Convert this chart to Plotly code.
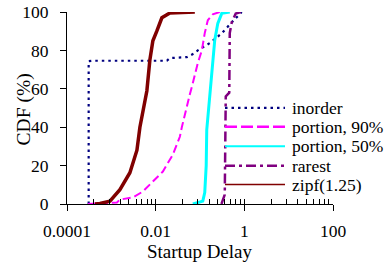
import plotly.graph_objects as go

# ---- data ----
inorder_x = [0.000308, 0.000308, 0.000366, 0.0179, 0.0209, 0.0505, 0.0764, 0.089, 0.166, 0.310, 0.520, 0.787, 0.873]
inorder_y = [0, 74.4, 74.6, 74.6, 76.0, 76.5, 78.6, 80.0, 83.8, 88.9, 94.6, 99.3, 100]

p90_x = [0.000297, 0.001337, 0.00156, 0.00306, 0.00515, 0.00865, 0.01453, 0.0244, 0.0351, 0.0389,
         0.0505, 0.0589, 0.0689, 0.0891, 0.110, 0.128, 0.150, 0.194, 0.279]
p90_y = [0, 0.8, 2.3, 3.4, 6.5, 11.7, 16.9, 25.7, 35, 40, 51.7, 57, 63, 73.4, 80, 89, 95.7, 98.8, 100]

p50_x = [0.0689, 0.1156, 0.128, 0.138, 0.142, 0.150, 0.166, 0.184, 0.194, 0.215, 0.252, 0.310, 0.469]
p50_y = [0, 1.5, 6, 20, 38.6, 45, 54.2, 66.1, 76.5, 85.3, 94.1, 99.3, 100]

rarest_x = [0.305, 0.362, 0.381, 0.457, 0.469, 0.520, 0.640, 0.830]
rarest_y = [0, 4.9, 56, 58, 89, 94.6, 99.2, 100]

zipf_x = [0.000428, 0.000553, 0.000929, 0.00156, 0.00262, 0.00378, 0.00441, 0.00515, 0.00634,
          0.00740, 0.00865, 0.0106, 0.0138, 0.0209, 0.0764]
zipf_y = [0, 0.3, 1.5, 7.5, 16.3, 28, 40, 49, 59, 75, 85, 90, 97, 99.5, 100]

series_names = ["inorder", "portion, 90%", "portion, 50%", "rarest", "zipf(1.25)"]
major_ticks = [0.0001, 0.01, 1, 100]
major_labels = ["0.0001", "0.01", "1", "100"]
minor_ticks = [k * k * d for d in (0.0001, 0.01, 1) for k in range(2, 10)]
y_ticks = [0, 20, 40, 60, 80, 100]
x_title = "Startup Delay"
y_title = "CDF (%)"

FONT = "Liberation Serif, Times New Roman, serif"

styles = [
    dict(color="#000080", width=2.2, dash="2.5px,4px"),
    dict(color="#FF00FF", width=2, dash="8px,4px"),
    dict(color="#00FFFF", width=3),
    dict(color="#800080", width=2.5, dash="10px,4px,3px,4px"),
    dict(color="#800000", width=3.5),
]
legend_styles = [
    dict(color="#000080", width=2.2, dash="2.5px,4px"),
    dict(color="#FF00FF", width=2.5, dash="12px,4px"),
    dict(color="#00FFFF", width=1.8),
    dict(color="#800080", width=2.5, dash="10px,4px,3px,4px"),
    dict(color="#800000", width=1.5),
]
data = [(inorder_x, inorder_y), (p90_x, p90_y), (p50_x, p50_y), (rarest_x, rarest_y), (zipf_x, zipf_y)]

fig = go.Figure()
for (xs, ys), name, st in zip(data, series_names, styles):
    fig.add_trace(go.Scatter(x=xs, y=ys, mode="lines", name=name, line=st, showlegend=False))

# invisible trace on overlay axis that carries the inside ticks
fig.add_trace(go.Scatter(x=[0.0001, 100], y=[None, None], xaxis="x2", showlegend=False,
                         hoverinfo="skip", mode="lines"))

W, H = 391, 262
# plot area in window pixels: x 67..333, y 11.7..204.5
L = 67
R = W - 333
T = 11.7
B = H - 204.5
pw, ph = W - L - R, H - T - B
def px2x(px): return (px - L) / pw
def py2y(py): return (H - B - py) / ph

# hand-drawn legend (line samples + labels) inside the plot area
leg_rows = [108, 127, 146.5, 166, 185]
for name, st, py in zip(series_names, legend_styles, leg_rows):
    fig.add_shape(type="line", xref="paper", yref="paper",
                  x0=px2x(225), x1=px2x(285), y0=py2y(py), y1=py2y(py), line=st)
    fig.add_annotation(text=name, xref="paper", yref="paper", x=px2x(290), y=py2y(py),
                       xanchor="left", yanchor="middle", showarrow=False,
                       font=dict(size=17.5, family=FONT, color="black"))

# axis titles
fig.add_annotation(text=x_title, xref="paper", yref="paper", x=px2x(200), y=py2y(252.5),
                   xanchor="center", yanchor="middle", showarrow=False,
                   font=dict(size=19, family=FONT, color="black"))
fig.add_annotation(text=y_title, xref="paper", yref="paper", x=px2x(23.5), y=py2y(110),
                   xanchor="center", yanchor="middle", showarrow=False, textangle=-90,
                   font=dict(size=19.5, family=FONT, color="black"))

fig.update_layout(
    width=W, height=H,
    margin=dict(l=L, r=R, t=T, b=B, autoexpand=False),
    paper_bgcolor="white", plot_bgcolor="white",
    font=dict(family=FONT, size=17.5, color="black"),
    showlegend=False,
    xaxis=dict(type="log", range=[-4, 2], showgrid=False, zeroline=False, automargin=False,
               showline=True, linecolor="black", linewidth=1,
               tickmode="array", tickvals=major_ticks, ticktext=major_labels,
               ticks="outside", ticklen=6, tickcolor="black", tickwidth=1,
               ticklabelstandoff=5, tickfont=dict(size=17.5)),
    xaxis2=dict(type="log", range=[-4, 2], overlaying="x", anchor="y", side="bottom",
                showgrid=False, zeroline=False, showline=False, showticklabels=False,
                tickmode="array", tickvals=major_ticks + minor_ticks,
                ticks="inside", ticklen=5, tickcolor="black", tickwidth=1),
    yaxis=dict(range=[0, 100], showgrid=False, zeroline=False, automargin=False,
               showline=True, linecolor="black", linewidth=1,
               tickmode="array", tickvals=y_ticks,
               ticks="outside", ticklen=6, tickcolor="black", tickwidth=1,
               ticklabelstandoff=8, tickfont=dict(size=17.5)),
)

# remove the browser's default page margin so the figure sits at the window origin
fig.write_html("out.html", config={"displayModeBar": False},
               post_script="document.body.style.margin='0';")
